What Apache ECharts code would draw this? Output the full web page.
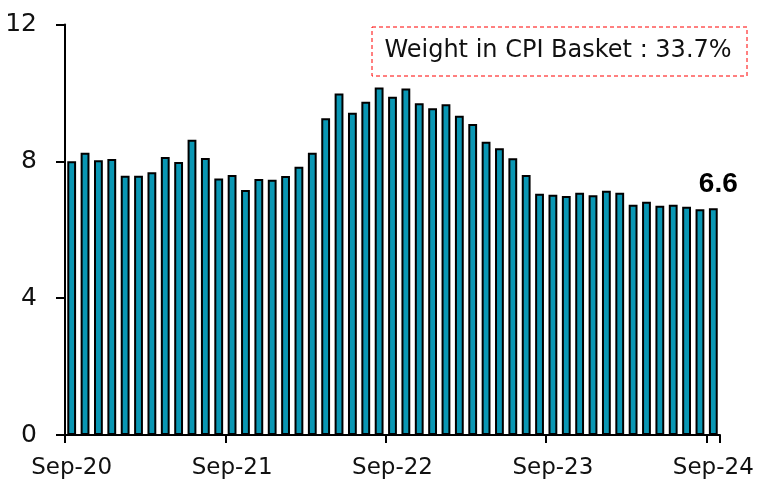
<!DOCTYPE html>
<html>
<head>
<meta charset="utf-8">
<script src="https://cdn.jsdelivr.net/npm/echarts@6/dist/echarts.min.js"></script>
<style>
  html, body { margin: 0; padding: 0; background: #fff; }
  #chart { width: 759px; height: 482px; }
</style>
</head>
<body>
<div id="chart"></div>
<script>
// months Sep-20 .. Sep-24
var months = ['Sep-20','Oct-20','Nov-20','Dec-20','Jan-21','Feb-21','Mar-21','Apr-21','May-21','Jun-21','Jul-21','Aug-21',
  'Sep-21','Oct-21','Nov-21','Dec-21','Jan-22','Feb-22','Mar-22','Apr-22','May-22','Jun-22','Jul-22','Aug-22',
  'Sep-22','Oct-22','Nov-22','Dec-22','Jan-23','Feb-23','Mar-23','Apr-23','May-23','Jun-23','Jul-23','Aug-23',
  'Sep-23','Oct-23','Nov-23','Dec-23','Jan-24','Feb-24','Mar-24','Apr-24','May-24','Jun-24','Jul-24','Aug-24',
  'Sep-24'];

var values = [8.0, 8.25, 8.03, 8.07, 7.58, 7.58, 7.68, 8.13, 7.98, 8.63, 8.1, 7.5,
  7.6, 7.16, 7.48, 7.46, 7.57, 7.84, 8.25, 9.26, 9.98, 9.42, 9.74, 10.16,
  9.89, 10.13, 9.7, 9.55, 9.67, 9.33, 9.09, 8.57, 8.38, 8.09, 7.6, 7.05,
  7.02, 6.99, 7.08, 7.01, 7.14, 7.08, 6.73, 6.82, 6.7, 6.73, 6.67, 6.6,
  6.63];

var lastLabel = '6.6';
var boxText = 'Weight in CPI Basket : 33.7%';

var font = 'DejaVu Sans';

var barData = values.map(function (v, i) {
    if (i === values.length - 1) {
        return {
            value: v,
            label: {
                show: true,
                position: 'top',
                distance: 10,
                offset: [5, 0],
                formatter: lastLabel,
                fontFamily: 'Liberation Sans',
                fontSize: 28,
                fontWeight: 'bold',
                color: '#000'
            }
        };
    }
    return v;
});

var myChart = echarts.init(document.getElementById('chart'));

var option = {
    animation: false,
    grid: { left: 65, right: 39, top: 24.5, bottom: 47 },
    xAxis: {
        type: 'category',
        data: months,
        boundaryGap: true,
        axisLine: { lineStyle: { color: '#000', width: 2 } },
        axisTick: { show: true, interval: 11, length: 8, lineStyle: { color: '#000', width: 2 } },
        axisLabel: { interval: 11, color: '#111', fontFamily: font, fontSize: 23, margin: 22 }
    },
    yAxis: {
        type: 'value',
        min: 0,
        max: 12,
        interval: 4,
        splitLine: { show: false },
        axisLine: { show: true, lineStyle: { color: '#000', width: 2 } },
        axisTick: { show: true, length: 9, lineStyle: { color: '#000', width: 2 } },
        axisLabel: { color: '#111', fontFamily: font, fontSize: 25, margin: 28 }
    },
    graphic: [
        {
            type: 'rect',
            shape: { x: 372, y: 27, width: 375, height: 49 },
            style: { fill: 'none', stroke: '#ff0000', lineWidth: 1, lineDash: [4, 3] }
        },
        {
            type: 'text',
            x: 558,
            y: 51,
            style: {
                text: boxText,
                fill: '#111',
                fontFamily: font,
                fontSize: 24,
                textAlign: 'center',
                textVerticalAlign: 'middle'
            }
        }
    ],
    series: [
        {
            type: 'bar',
            data: barData,
            barWidth: '66%',
            itemStyle: { color: '#0a97b4', borderColor: '#000', borderWidth: 2 }
        }
    ]
};

myChart.setOption(option);
</script>
</body>
</html>
